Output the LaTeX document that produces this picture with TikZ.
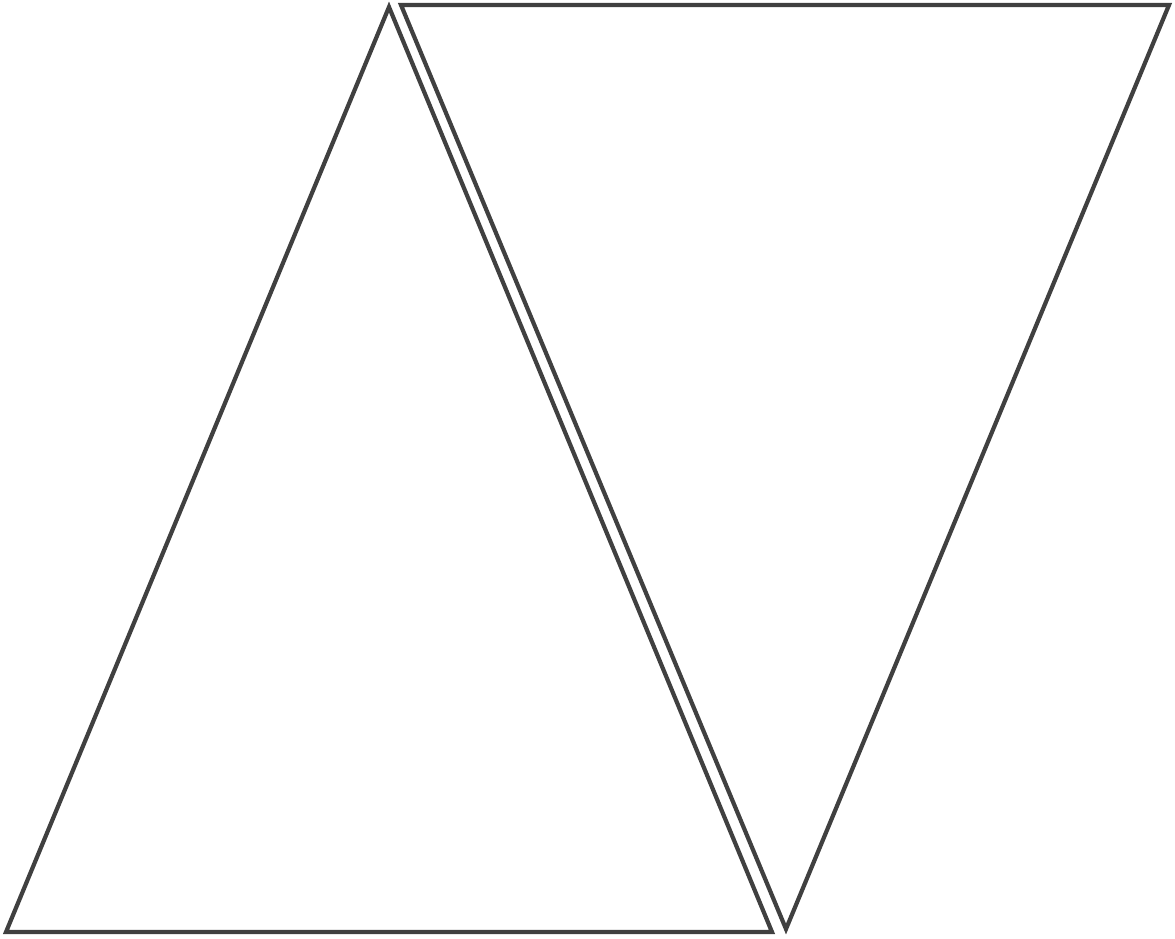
\documentclass[tikz,border=0pt]{standalone}
\begin{document}
\begin{tikzpicture}[x=1pt,y=-1pt,
  tri/.style={draw=black!75, line width=4.2pt, line join=miter}]
\useasboundingbox (0,0) rectangle (1175,938);
\coordinate (a1) at (389,7);
\coordinate (a2) at (6,932);
\coordinate (a3) at (772,932);
\coordinate (b1) at (401,5);
\coordinate (b2) at (1169,5);
\coordinate (b3) at (786,929);
\draw[tri] (a1) -- (a2) -- (a3) -- cycle;
\draw[tri] (b1) -- (b2) -- (b3) -- cycle;
\end{tikzpicture}
\end{document}
